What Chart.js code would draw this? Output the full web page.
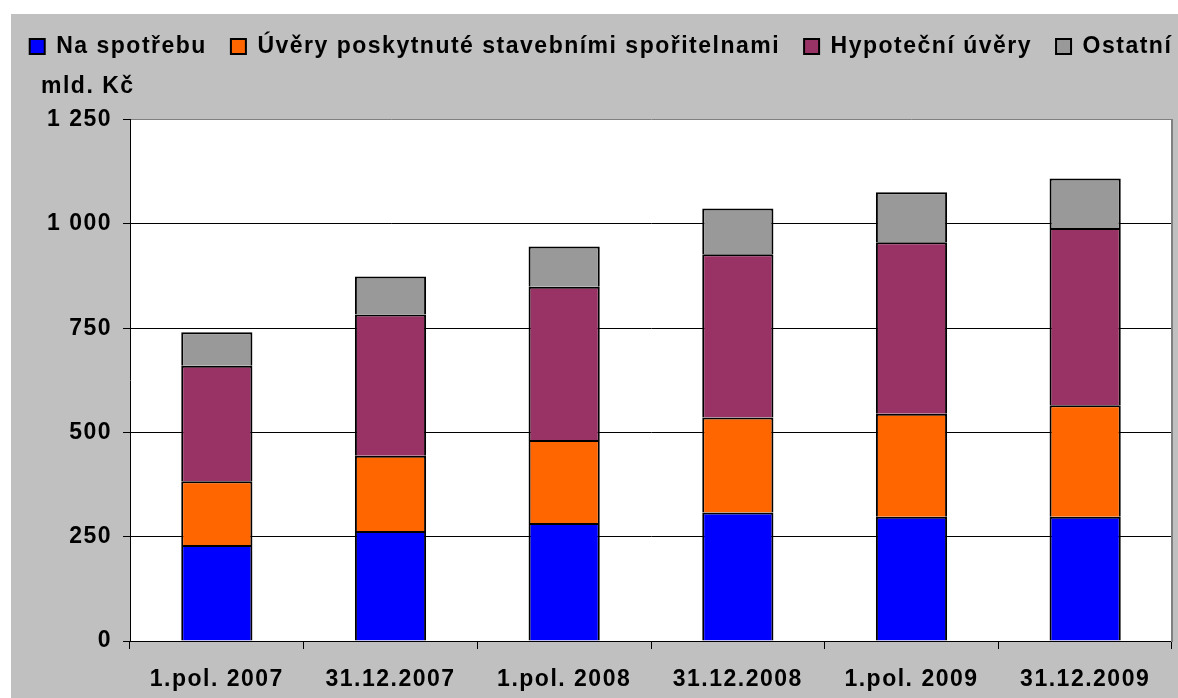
<!DOCTYPE html>
<html>
<head>
<meta charset="utf-8">
<script src="https://cdn.jsdelivr.net/npm/chart.js@4.4.1/dist/chart.umd.min.js"></script>
<style>
  html, body { margin: 0; padding: 0; background: #ffffff; }
  #wrap { position: absolute; left: 11px; top: 14px; width: 1167px; height: 684px; background: #C0C0C0; }
  canvas { display: block; }
</style>
</head>
<body>
<div id="wrap"><canvas id="c" width="1167" height="684"></canvas></div>
<script>
// ---- data ----
const categories = ['1.pol. 2007', '31.12.2007', '1.pol. 2008', '31.12.2008', '1.pol. 2009', '31.12.2009'];
const seriesNames = ['Na spotřebu', 'Úvěry poskytnuté stavebními spořitelnami', 'Hypoteční úvěry', 'Ostatní'];
const naSpotrebu = [230, 264, 283, 308, 298, 298];
const stavebniSporitelny = [153, 180, 199, 228, 247, 267];
const hypotecniUvery = [277, 339, 367, 391, 411, 425];
const ostatni = [80, 91, 97, 110, 120, 119];
const yTicks = [0, 250, 500, 750, 1000, 1250];
const yTickLabels = ['0', '250', '500', '750', '1 000', '1 250'];
const unitLabel = 'mld. Kč';

const FONT = { family: '"Liberation Sans", Arial, Helvetica, sans-serif', size: 23, weight: 'bold' };
const SPACING = '1.5px';

const spacingPlugin = {
  id: 'spacing',
  beforeInit(chart) { chart.ctx.letterSpacing = SPACING; },
  beforeUpdate(chart) { chart.ctx.letterSpacing = SPACING; },
  beforeLayout(chart) { chart.ctx.letterSpacing = SPACING; },
  afterLayout(chart) {
    if (chart.titleBlock) { chart.titleBlock.left = 30; }
  },
  beforeDraw(chart) {
    const { ctx, chartArea } = chart;
    ctx.letterSpacing = SPACING;
    ctx.save();
    ctx.fillStyle = '#ffffff';
    ctx.fillRect(chartArea.left, chartArea.top, chartArea.right - chartArea.left, chartArea.bottom - chartArea.top);
    ctx.restore();
  }
};

function ds(label, data, color) {
  return { label, data, backgroundColor: color, borderColor: '#000000', borderWidth: 2 };
}

new Chart(document.getElementById('c'), {
  type: 'bar',
  data: {
    labels: categories,
    datasets: [
      ds(seriesNames[0], naSpotrebu, '#0000FF'),
      ds(seriesNames[1], stavebniSporitelny, '#FF6600'),
      ds(seriesNames[2], hypotecniUvery, '#993366'),
      ds(seriesNames[3], ostatni, '#999999')
    ]
  },
  plugins: [spacingPlugin],
  options: {
    responsive: false,
    animation: false,
    devicePixelRatio: 1,
    datasets: { bar: { categoryPercentage: 1.0, barPercentage: 0.41 } },
    layout: { padding: { left: -10, right: -23, top: -3, bottom: 0 } },
    plugins: {
      tooltip: { enabled: false },
      legend: {
        display: true,
        position: 'top',
        align: 'center',
        labels: {
          color: '#000000',
          font: FONT,
          boxWidth: 15,
          boxHeight: 15,
          padding: 24
        }
      },
      title: {
        display: true,
        text: unitLabel,
        align: 'start',
        color: '#000000',
        font: FONT,
        weight: 500,
        padding: { top: 5, bottom: 19 }
      }
    },
    scales: {
      x: {
        stacked: true,
        grid: {
          offset: true,
          drawOnChartArea: false,
          drawTicks: true,
          tickLength: 8,
          color: '#000000',
          lineWidth: 1
        },
        border: { display: true, color: '#000000', width: 1 },
        ticks: { color: '#000000', font: FONT, padding: 17, maxRotation: 0, autoSkip: false },
        afterFit(scale) { scale.height = 57; }
      },
      y: {
        stacked: true,
        min: 0,
        max: 1250,
        afterBuildTicks(scale) { scale.ticks = yTicks.map(v => ({ value: v })); },
        grid: {
          drawTicks: true,
          tickLength: 7,
          tickColor: '#000000',
          lineWidth: 1,
          color: (ctx) => (ctx.tick && ctx.tick.value === 1250) ? '#808080' : '#000000'
        },
        border: { display: true, color: '#000000', width: 1 },
        ticks: {
          color: '#000000',
          font: FONT,
          padding: 11,
          callback: (value, index) => yTickLabels[index]
        },
        afterFit(scale) { scale.width = 129; }
      },
      y2: {
        position: 'right',
        display: true,
        grid: { display: false, drawTicks: false },
        ticks: { display: false },
        border: { display: true, color: '#808080', width: 2 },
        afterFit(scale) { scale.width = 29; }
      }
    }
  }
});
</script>
</body>
</html>
